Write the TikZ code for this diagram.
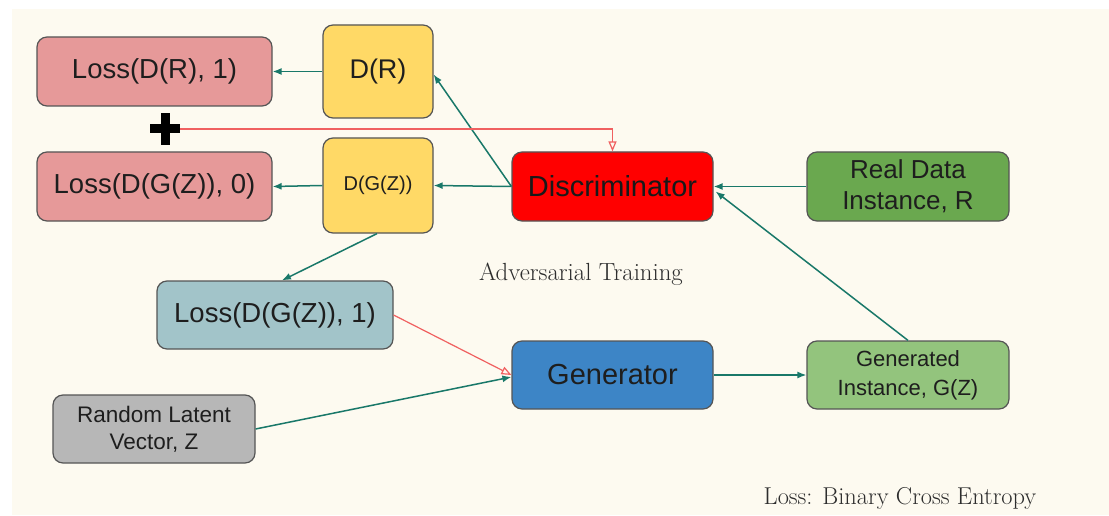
\documentclass[tikz,border=0pt]{standalone}
\usepackage{fontspec}
\newfontfamily\boxfont{Liberation Sans}
\usetikzlibrary{arrows.meta,calc}
\definecolor{cream}{RGB}{253,250,240}
\definecolor{bordergray}{RGB}{85,85,85}
\definecolor{textdark}{RGB}{30,30,30}
\definecolor{captc}{RGB}{45,45,45}
\definecolor{pinkc}{RGB}{230,153,153}
\definecolor{yellowc}{RGB}{255,217,102}
\definecolor{redc}{RGB}{255,0,0}
\definecolor{dgreen}{RGB}{106,168,79}
\definecolor{lgreen}{RGB}{147,196,125}
\definecolor{bluec}{RGB}{61,133,198}
\definecolor{lbluec}{RGB}{162,196,201}
\definecolor{greyc}{RGB}{183,183,183}
\definecolor{tealc}{RGB}{25,120,105}
\definecolor{redline}{RGB}{240,96,96}
\tikzset{
  box/.style={draw=bordergray, line width=1.2pt, rounded corners=10pt, align=center,
    text=textdark, inner sep=0pt, font=\boxfont\fontsize{27.5}{32}\selectfont},
  conn/.style={draw=tealc, line width=1.5pt, -{Latex[length=9pt,width=7pt]}},
  redconn/.style={draw=redline, line width=1.2pt, -{Triangle[open,length=10pt,width=8pt]}},
  caption/.style={text=captc, anchor=base}
}
\begin{document}
\begin{tikzpicture}[x=1pt,y=-1pt]
\useasboundingbox (0,0) rectangle (1109,516);
\fill[white] (0,0) rectangle (1109,516);
\fill[cream] (12,9) rectangle (1109,515);

% nodes
\node[box, fill=pinkc, minimum width=235pt, minimum height=69pt] (lr) at (154.5,71.5) {Loss(D(R), 1)};
\node[box, fill=yellowc, minimum width=110pt, minimum height=93pt, font=\boxfont\fontsize{27}{32}\selectfont] (dr) at (378,71.5) {D(R)};
\node[minimum width=30pt, minimum height=32pt, inner sep=0pt] (plus) at (165,129) {};
\node[box, fill=pinkc, minimum width=235pt, minimum height=69pt] (lgz) at (154.5,186.5) {Loss(D(G(Z)), 0)};
\node[box, fill=yellowc, minimum width=110pt, minimum height=95pt, font=\boxfont\fontsize{20}{24}\selectfont] (dgz) at (378,185.5) {D(G(Z))};
\node[box, fill=redc, minimum width=201pt, minimum height=69pt, font=\boxfont\fontsize{29}{34}\selectfont, text=black!90] (disc) at (612.5,186.5) {Discriminator};
\node[box, fill=dgreen, minimum width=202pt, minimum height=69pt, font=\boxfont\fontsize{26}{31}\selectfont] (real) at (908,186.5) {Real Data\\Instance, R};
\node[box, fill=lbluec, minimum width=236pt, minimum height=68pt] (lone) at (275,315) {Loss(D(G(Z)), 1)};
\node[box, fill=bluec, minimum width=201pt, minimum height=68pt, font=\boxfont\fontsize{29}{34}\selectfont] (gen) at (612.5,375) {Generator};
\node[box, fill=lgreen, minimum width=202pt, minimum height=68pt, font=\boxfont\fontsize{22}{29}\selectfont] (gend) at (908,375) {Generated\\Instance, G(Z)};
\node[box, fill=greyc, minimum width=202pt, minimum height=68pt, font=\boxfont\fontsize{22.5}{27}\selectfont] (rand) at (154,429) {Random Latent\\Vector, Z};

% plus sign
\fill[black] ($(plus.center)+(-4.5,-16)$) rectangle ($(plus.center)+(4.5,16)$);
\fill[black] ($(plus.center)+(-15,-4.5)$) rectangle ($(plus.center)+(15,4.5)$);

% captions
\node[caption, font=\fontsize{24.8}{29}\selectfont] (adv) at (581,280) {Adversarial Training};
\node[caption, font=\fontsize{24.4}{29}\selectfont] (bce) at (900,504) {Loss: Binary Cross Entropy};

% connectors
\draw[conn] (dr.west) -- (lr.east);
\draw[conn] (dgz.west) -- (lgz.east);
\draw[conn] (disc.west) -- (dgz.east);
\draw[conn] (disc.west) -- ($(dr.east)+(0,3)$);
\draw[conn] (real.west) -- (disc.east);
\draw[conn] (gend.north) -- ($(disc.east)+(2,5)$);
\draw[conn] ($(dgz.south)+(-1,0)$) -- ($(lone.north)+(7,0)$);
\draw[conn] (rand.east) -- ($(gen.west)+(0,2)$);
\draw[conn] (gen.east) -- (gend.west);
\draw[redconn] (lone.east) -- (gen.west);
\draw[redconn] (plus.east) -| (disc.north);
\end{tikzpicture}
\end{document}
